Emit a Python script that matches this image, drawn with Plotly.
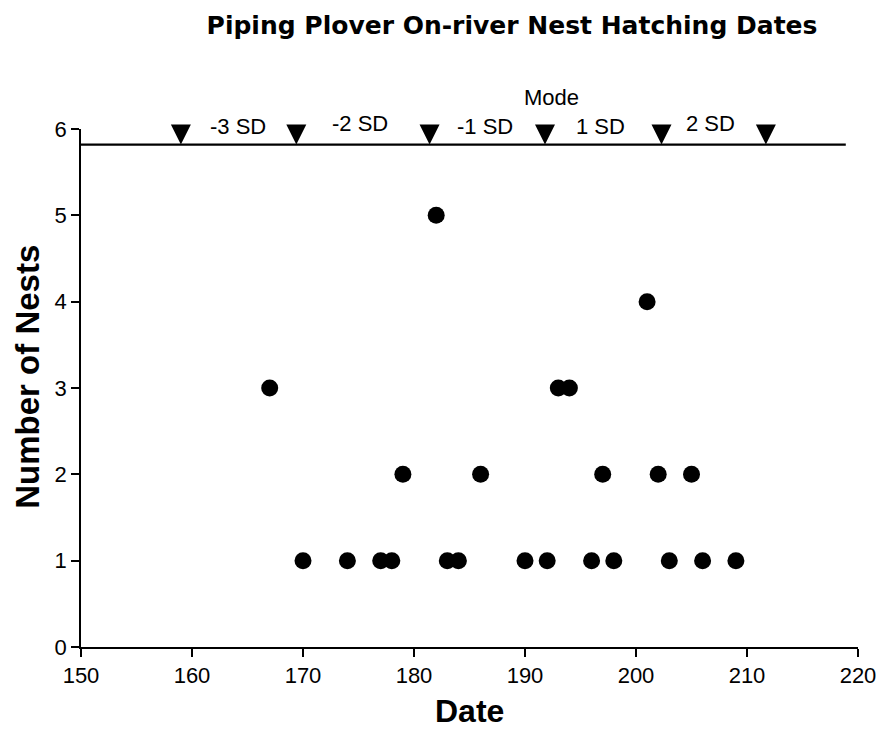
import plotly.graph_objects as go

# Data
dates = [167, 170, 174, 177, 178, 179, 182, 183, 184, 186, 190, 192,
         193, 194, 196, 197, 198, 201, 202, 203, 205, 206, 209]
nests = [3, 1, 1, 1, 1, 2, 5, 1, 1, 2, 1, 1,
         3, 3, 1, 2, 1, 4, 2, 1, 2, 1, 1]

# SD markers (triangles) along the reference line
sd_marker_dates = [159.0, 169.4, 181.4, 191.8, 202.3, 211.7]
ref_level = 5.82
ref_line_x = [150, 218.9]

sd_labels = ["-3 SD", "-2 SD", "-1 SD", "Mode", "1 SD", "2 SD"]
sd_label_x = [164.1, 175.1, 186.4, 192.4, 196.8, 206.7]
sd_label_y = [6.03, 6.06, 6.03, 6.36, 6.03, 6.06]

x_ticks = [150, 160, 170, 180, 190, 200, 210, 220]
y_ticks = [0, 1, 2, 3, 4, 5, 6]
X_RANGE = [150, 220]
Y_RANGE = [0, 6]

FONT = "Arial, Liberation Sans, sans-serif"
TITLE_FONT = "DejaVu Sans, Arial, sans-serif"

# plot area geometry (px)
W, H = 888, 734
L, R, T, B = 81, 19, 129, 87
PW, PH = W - L - R, H - T - B

def px_to_paper_x(px):
    return (px - L) / PW

def px_to_paper_y(py):
    return (H - B - py) / PH

def yval_to_paper(v):
    return (v - Y_RANGE[0]) / (Y_RANGE[1] - Y_RANGE[0])

fig = go.Figure()

fig.add_trace(go.Scatter(
    x=ref_line_x, y=[ref_level] * len(ref_line_x),
    mode="lines", line=dict(color="black", width=2.2),
    cliponaxis=False, hoverinfo="skip", showlegend=False))

fig.add_trace(go.Scatter(
    x=sd_marker_dates, y=[ref_level] * len(sd_marker_dates),
    mode="markers",
    marker=dict(symbol="arrow-down", size=20, color="black",
                line=dict(width=0)),
    cliponaxis=False, showlegend=False))

fig.add_trace(go.Scatter(
    x=dates, y=nests, mode="markers",
    marker=dict(symbol="circle", size=17, color="black",
                line=dict(width=0)),
    cliponaxis=False, showlegend=False))

annotations = [
    dict(text=lab, x=xv, y=yval_to_paper(yv), xref="x", yref="paper",
         xanchor="center", yanchor="middle", showarrow=False,
         font=dict(family=FONT, size=22, color="black"))
    for lab, xv, yv in zip(sd_labels, sd_label_x, sd_label_y)
]
annotations += [
    dict(text="<b>Date</b>", xref="paper", yref="paper",
         x=0.5, y=px_to_paper_y(711), xanchor="center", yanchor="middle",
         showarrow=False, font=dict(family=FONT, size=32, color="black")),
    dict(text="<b>Number of Nests</b>", xref="paper", yref="paper",
         x=px_to_paper_x(26), y=px_to_paper_y(377), textangle=-90,
         xanchor="center", yanchor="middle",
         showarrow=False, font=dict(family=FONT, size=33, color="black")),
]

axis_common = dict(
    showgrid=False, zeroline=False, showline=True, linecolor="black",
    linewidth=1.5, ticks="outside", ticklen=8, tickwidth=1.5,
    tickcolor="black", tickfont=dict(family=FONT, size=22, color="black"),
)

fig.update_layout(
    width=W, height=H,
    margin=dict(l=L, r=R, t=T, b=B),
    paper_bgcolor="white", plot_bgcolor="white",
    title=dict(text="<b>Piping Plover On-river Nest Hatching Dates</b>",
               x=512 / W, xref="container", xanchor="center",
               y=1 - 25 / H, yref="container", yanchor="middle",
               font=dict(family=TITLE_FONT, size=25, color="black")),
    xaxis=dict(range=X_RANGE, tickvals=x_ticks, **axis_common),
    yaxis=dict(range=Y_RANGE, tickvals=y_ticks, **axis_common),
    annotations=annotations,
)

fig.write_html("out.html",
               config={"displayModeBar": False},
               post_script="document.body.style.margin='0';"
                           "document.body.style.overflow='hidden';")
